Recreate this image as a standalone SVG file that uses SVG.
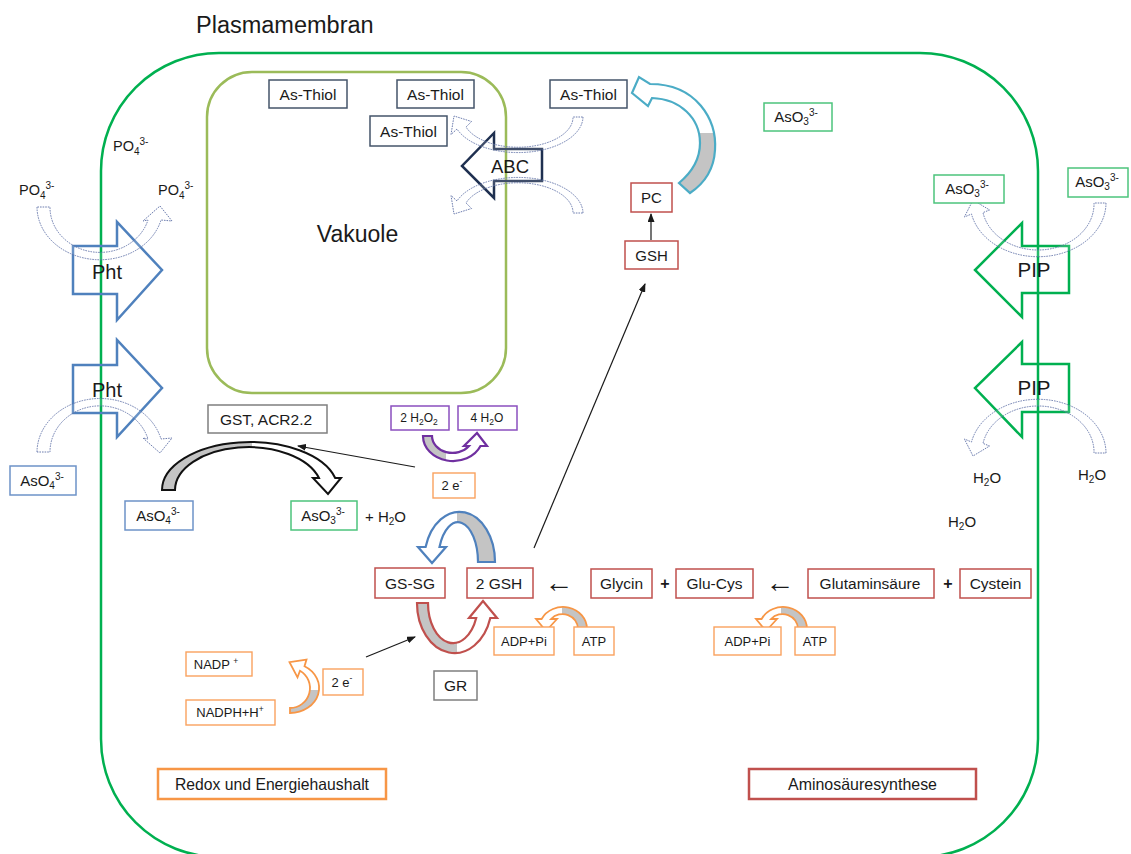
<svg xmlns="http://www.w3.org/2000/svg" width="1131" height="854" viewBox="0 0 1131 854">
  <style>
    .t{font-family:"Liberation Sans",Arial,"DejaVu Sans",sans-serif;fill:#1a1a1a}
    .s{font-size:10px}
    .ss{font-size:8.5px}
    .box{fill:#fff;stroke-width:1.5}
    .slate{stroke:#44546a}
    .red{stroke:#c0504d}
    .org{stroke:#f9a25e;stroke-width:1.4}
    .blu{stroke:#6d93c8}
    .grn{stroke:#4cc47c}
    .gry{stroke:#7f7f7f}
    .pur{stroke:#8b4fbf}
    .dot{fill:#fff;fill-opacity:0.15;stroke:#5d6fa6;stroke-width:0.9;stroke-dasharray:1.6 1}
    .line{stroke:#1a1a1a;stroke-width:1.2;fill:none}
  </style>
  <defs>
    <linearGradient id="gL" x1="0" y1="0" x2="1" y2="0">
      <stop offset="0" stop-color="#c4c4c4"/><stop offset="0.5" stop-color="#c4c4c4"/>
      <stop offset="0.5" stop-color="#fff"/><stop offset="1" stop-color="#fff"/>
    </linearGradient>
    <linearGradient id="gR" x1="0" y1="0" x2="1" y2="0">
      <stop offset="0" stop-color="#fff"/><stop offset="0.5" stop-color="#fff"/>
      <stop offset="0.5" stop-color="#c4c4c4"/><stop offset="1" stop-color="#c4c4c4"/>
    </linearGradient>
    <linearGradient id="gPur" x1="0" y1="0" x2="1" y2="0">
      <stop offset="0" stop-color="#c4c4c4"/><stop offset="0.36" stop-color="#c4c4c4"/>
      <stop offset="0.36" stop-color="#fff"/><stop offset="1" stop-color="#fff"/>
    </linearGradient>
    <linearGradient id="gB" x1="0" y1="0" x2="0" y2="1">
      <stop offset="0" stop-color="#fff"/><stop offset="0.48" stop-color="#fff"/>
      <stop offset="0.48" stop-color="#c4c4c4"/><stop offset="1" stop-color="#c4c4c4"/>
    </linearGradient>
    <linearGradient id="gB2" x1="0" y1="0" x2="0" y2="1">
      <stop offset="0" stop-color="#fff"/><stop offset="0.57" stop-color="#fff"/>
      <stop offset="0.57" stop-color="#c4c4c4"/><stop offset="1" stop-color="#c4c4c4"/>
    </linearGradient>
    <marker id="ah" markerWidth="9" markerHeight="7" refX="8" refY="3.5" orient="auto" markerUnits="userSpaceOnUse">
      <path d="M0,0 L9,3.5 L0,7 z" fill="#1a1a1a"/>
    </marker>
  </defs>

  <rect width="1131" height="854" fill="#fff"/>

  <!-- compartments -->
  <g id="plasmamembran">
    <rect x="101" y="53" width="937" height="804" rx="118" ry="118" fill="none" stroke="#00b050" stroke-width="2.5"/>
    <text class="t" x="196" y="33" font-size="23.5">Plasmamembran</text>
  </g>
  <g id="vakuole">
    <rect x="207" y="72" width="299" height="321" rx="45" ry="45" fill="none" stroke="#9bbb59" stroke-width="2.5"/>
    <text class="t" x="357.5" y="242" font-size="23" text-anchor="middle">Vakuole</text>
  </g>

  <!-- transporters -->
  <g id="pht1">
    <path d="M73,246 L117,246 L117,222 L162,270 L117,320 L117,294 L73,294 Z" fill="none" stroke="#4f81bd" stroke-width="2.5"/>
    <text class="t" x="107" y="279" font-size="20" text-anchor="middle">Pht</text>
  </g>
  <g id="pht2">
    <path d="M73,365 L117,365 L117,340 L162,388 L117,437 L117,413 L73,413 Z" fill="none" stroke="#4f81bd" stroke-width="2.5"/>
    <text class="t" x="107" y="397" font-size="20" text-anchor="middle">Pht</text>
  </g>
  <g id="pip1">
    <path d="M1069,246 L1022,246 L1022,223 L975,270 L1022,317 L1022,293 L1069,293 Z" fill="none" stroke="#00b050" stroke-width="2.5"/>
    <text class="t" x="1034" y="277" font-size="20.5" text-anchor="middle">PIP</text>
  </g>
  <g id="pip2">
    <path d="M1069,364 L1022,364 L1022,342 L975,388 L1022,437 L1022,412 L1069,412 Z" fill="none" stroke="#00b050" stroke-width="2.5"/>
    <text class="t" x="1034" y="395" font-size="20.5" text-anchor="middle">PIP</text>
  </g>
  <g id="abc">
    <path d="M542,149 L494,149 L494,133 L462,166 L494,198 L494,181 L542,181 Z" fill="none" stroke="#1f3050" stroke-width="2.5"/>
    <text class="t" x="510" y="173" font-size="18.5" text-anchor="middle">ABC</text>
  </g>

  <!-- dotted transport flows -->
  <g id="flows">
    <path class="dot" d="M37,207 A63,53 0 0 0 161,220 L172,221 L160,206 L143,221 L148,220 A50,45 0 0 1 50,207 Z"/>
    <path class="dot" d="M37,452 A63,54 0 0 1 161,439 L172,438 L160,453 L143,438 L148,439 A50,46 0 0 0 50,452 Z"/>
    <path class="dot" d="M583,117 A65,36 0 0 1 457,129 L451,134.5 L454,116 L471.6,121.5 L466,127 A55,30 0 0 0 573,117 Z"/>
    <path class="dot" d="M583,213 A65,36 0 0 0 457,201 L451,195.5 L454,214 L471.6,208.5 L466,203 A55,30 0 0 1 573,213 Z"/>
    <path class="dot" d="M1106,203 A68,54 0 0 1 971.5,214 L964.4,217 L973,200 L989.6,210 L983,212.6 A56,46 0 0 0 1094,203 Z"/>
    <path class="dot" d="M1106,453 A68,54 0 0 0 971.5,442 L964.4,439 L973,456 L989.6,446 L983,443.4 A56,46 0 0 1 1094,453 Z"/>
  </g>

  <!-- reaction arrows -->
  <g id="connectors">
    <path d="M162,490 A88,48 0 0 1 335.2,478 L341,478 L328,494 L313,478 L319,478 A73.5,43 0 0 0 175,490 Z" fill="url(#gL)" stroke="#111" stroke-width="2"/>
    <path d="M423,436 A30,25 0 0 0 480.5,446 L487,446 L477,433 L464,446 L469,446 A20.5,17 0 0 1 432,436 Z" fill="url(#gPur)" stroke="#7030a0" stroke-width="2.2"/>
    <path d="M495,562 A35.5,50 0 0 0 425.6,547 L418,547 L432,563 L446,547 L439.5,547 A20,40 0 0 1 478,562 Z" fill="url(#gR)" stroke="#4f81bd" stroke-width="2.2"/>
    <path d="M417,603 A37.5,50 0 0 0 490.3,618 L497,618 L483,601 L469,618 L476.2,618 A25,40 0 0 1 428,603 Z" fill="url(#gL)" stroke="#c0504d" stroke-width="2.2"/>
    <path d="M650,84 C697,84 717,120 715,150 C714,168 705,183 690,193 L679,183 C691,173 700,160 700,143 C700,118 680,99 652,98 L648,106 L632,93 L639,77 Z" fill="url(#gB)" stroke="#4bacc6" stroke-width="2.2"/>
    <path d="M587,629 A24,22 0 0 0 541.6,619 L536,619 L546,631 L557,619 L551,619 A15.5,15 0 0 1 578,629 Z" fill="url(#gR)" stroke="#f79646" stroke-width="1.8"/>
    <path d="M807,629 A24,22 0 0 0 761.6,619 L756,619 L766,631 L777,619 L771,619 A15.5,15 0 0 1 798,629 Z" fill="url(#gR)" stroke="#f79646" stroke-width="1.8"/>
    <path d="M290,713 A29,25 0 0 0 304.5,666.3 L306.5,659.6 L289.5,662.2 L297.5,677.4 L300,670.7 A20,20 0 0 1 290,708 Z" fill="url(#gB2)" stroke="#f79646" stroke-width="1.8"/>
    <line class="line" x1="415" y1="467" x2="298" y2="446" marker-end="url(#ah)"/>
    <line class="line" x1="366" y1="657" x2="415" y2="637" marker-end="url(#ah)"/>
    <line class="line" x1="534" y1="548" x2="645" y2="284" marker-end="url(#ah)"/>
    <line class="line" x1="651" y1="240" x2="651" y2="214" marker-end="url(#ah)"/>
  </g>

  <!-- free labels -->
  <g id="labels">
    <text class="t" x="113" y="151" font-size="14.5">PO<tspan class="s" dy="4">4</tspan><tspan class="s" dy="-10">3-</tspan></text>
    <text class="t" x="19" y="195" font-size="14.5">PO<tspan class="s" dy="4">4</tspan><tspan class="s" dy="-10">3-</tspan></text>
    <text class="t" x="158" y="195" font-size="14.5">PO<tspan class="s" dy="4">4</tspan><tspan class="s" dy="-10">3-</tspan></text>
    <text class="t" x="973" y="483" font-size="15">H<tspan class="s" dy="3">2</tspan><tspan dy="-3">O</tspan></text>
    <text class="t" x="1078" y="480" font-size="15">H<tspan class="s" dy="3">2</tspan><tspan dy="-3">O</tspan></text>
    <text class="t" x="948" y="527" font-size="15">H<tspan class="s" dy="3">2</tspan><tspan dy="-3">O</tspan></text>
    <text class="t" x="365" y="522" font-size="15">+ H<tspan class="s" dy="3">2</tspan><tspan dy="-3">O</tspan></text>
    <text class="t" x="559" y="592" font-size="29" text-anchor="middle">←</text>
    <text class="t" x="780" y="592" font-size="29" text-anchor="middle">←</text>
    <text class="t" x="665" y="589" font-size="16" font-weight="bold" text-anchor="middle">+</text>
    <text class="t" x="948" y="589" font-size="16" font-weight="bold" text-anchor="middle">+</text>
  </g>

  <!-- nodes -->
  <g id="as-thiol-1"><rect class="box slate" x="269" y="80" width="78" height="28"/><text class="t" x="308" y="99.5" font-size="15.5" text-anchor="middle">As-Thiol</text></g>
  <g id="as-thiol-2"><rect class="box slate" x="397" y="80" width="77" height="28"/><text class="t" x="435.5" y="99.5" font-size="15.5" text-anchor="middle">As-Thiol</text></g>
  <g id="as-thiol-3"><rect class="box slate" x="370" y="116" width="77" height="30"/><text class="t" x="408.5" y="136.5" font-size="15.5" text-anchor="middle">As-Thiol</text></g>
  <g id="as-thiol-4"><rect class="box slate" x="550" y="80" width="77" height="28"/><text class="t" x="588.5" y="99.5" font-size="15.5" text-anchor="middle">As-Thiol</text></g>

  <g id="aso3-cyt"><rect class="box grn" x="764" y="103" width="68" height="28"/><text class="t" x="796" y="122" font-size="15" text-anchor="middle">AsO<tspan class="s" dy="3">3</tspan><tspan class="s" dy="-9">3-</tspan></text></g>
  <g id="aso3-in"><rect class="box grn" x="934" y="175" width="70" height="28"/><text class="t" x="967" y="194" font-size="15" text-anchor="middle">AsO<tspan class="s" dy="3">3</tspan><tspan class="s" dy="-9">3-</tspan></text></g>
  <g id="aso3-out"><rect class="box grn" x="1068" y="168" width="60" height="29"/><text class="t" x="1097" y="187" font-size="15" text-anchor="middle">AsO<tspan class="s" dy="3">3</tspan><tspan class="s" dy="-9">3-</tspan></text></g>

  <g id="pc"><rect class="box red" x="631" y="183" width="41" height="29"/><text class="t" x="651.5" y="203" font-size="15" text-anchor="middle">PC</text></g>
  <g id="gsh"><rect class="box red" x="625" y="241" width="53" height="28"/><text class="t" x="651.5" y="260.5" font-size="15" text-anchor="middle">GSH</text></g>

  <g id="aso4-out"><rect class="box blu" x="10" y="466" width="66" height="29"/><text class="t" x="42" y="486" font-size="15" text-anchor="middle">AsO<tspan class="s" dy="3">4</tspan><tspan class="s" dy="-9">3-</tspan></text></g>
  <g id="aso4-cyt"><rect class="box blu" x="125" y="501" width="68" height="29"/><text class="t" x="158" y="521" font-size="15" text-anchor="middle">AsO<tspan class="s" dy="3">4</tspan><tspan class="s" dy="-9">3-</tspan></text></g>
  <g id="aso3-red"><rect class="box grn" x="291" y="501" width="66" height="29"/><text class="t" x="323" y="521" font-size="15" text-anchor="middle">AsO<tspan class="s" dy="3">3</tspan><tspan class="s" dy="-9">3-</tspan></text></g>
  <g id="gst"><rect class="box gry" x="208" y="405" width="119" height="28"/><text class="t" x="266" y="424.5" font-size="15.5" text-anchor="middle">GST, ACR2.2</text></g>

  <g id="h2o2"><rect class="box pur" x="391" y="406" width="58" height="24"/><text class="t" x="419" y="422" font-size="12" text-anchor="middle">2 H<tspan class="ss" dy="3">2</tspan><tspan dy="-3">O</tspan><tspan class="ss" dy="3">2</tspan></text></g>
  <g id="h2o-4"><rect class="box pur" x="458" y="406" width="59" height="24"/><text class="t" x="487" y="422" font-size="12" text-anchor="middle">4 H<tspan class="ss" dy="3">2</tspan><tspan dy="-3">O</tspan></text></g>
  <g id="e-gsh"><rect class="box org" x="433" y="473" width="42" height="25"/><text class="t" x="452" y="490" font-size="13" text-anchor="middle">2 e<tspan class="ss" dy="-6">-</tspan></text></g>

  <g id="gssg"><rect class="box red" x="375" y="568" width="70" height="30"/><text class="t" x="410" y="588.5" font-size="15.5" text-anchor="middle">GS-SG</text></g>
  <g id="gsh2"><rect class="box red" x="467" y="568" width="66" height="30"/><text class="t" x="499" y="588.5" font-size="15.5" text-anchor="middle">2 GSH</text></g>
  <g id="gr"><rect class="box gry" x="434" y="671" width="43" height="29"/><text class="t" x="455.5" y="691" font-size="15.5" text-anchor="middle">GR</text></g>

  <g id="glycin"><rect class="box red" x="591" y="569" width="61" height="29"/><text class="t" x="621.5" y="589" font-size="15.5" text-anchor="middle">Glycin</text></g>
  <g id="glu-cys"><rect class="box red" x="676" y="569" width="77" height="29"/><text class="t" x="714.5" y="589" font-size="15.5" text-anchor="middle">Glu-Cys</text></g>
  <g id="glutaminsaeure"><rect class="box red" x="808" y="569" width="126" height="29"/><text class="t" x="870" y="589" font-size="15.5" text-anchor="middle">Glutaminsäure</text></g>
  <g id="cystein"><rect class="box red" x="960" y="569" width="71" height="29"/><text class="t" x="995.5" y="589" font-size="15.5" text-anchor="middle">Cystein</text></g>

  <g id="adp-1"><rect class="box org" x="494" y="627" width="60" height="28"/><text class="t" x="524" y="645.5" font-size="13" text-anchor="middle">ADP+Pi</text></g>
  <g id="atp-1"><rect class="box org" x="574" y="627" width="40" height="28"/><text class="t" x="594" y="645.5" font-size="13" text-anchor="middle">ATP</text></g>
  <g id="adp-2"><rect class="box org" x="714" y="627" width="67" height="28"/><text class="t" x="747.5" y="645.5" font-size="13" text-anchor="middle">ADP+Pi</text></g>
  <g id="atp-2"><rect class="box org" x="795" y="627" width="40" height="28"/><text class="t" x="815" y="645.5" font-size="13" text-anchor="middle">ATP</text></g>

  <g id="nadp"><rect class="box org" x="186" y="652" width="66" height="24"/><text class="t" x="216" y="668.5" font-size="13" text-anchor="middle">NADP <tspan class="ss" dy="-5">+</tspan></text></g>
  <g id="nadph"><rect class="box org" x="186" y="700" width="89" height="25"/><text class="t" x="230" y="717" font-size="13" text-anchor="middle">NADPH+H<tspan class="ss" dy="-5">+</tspan></text></g>
  <g id="e-nadph"><rect class="box org" x="323" y="669" width="40" height="26"/><text class="t" x="342" y="687" font-size="13" text-anchor="middle">2 e<tspan class="ss" dy="-6">-</tspan></text></g>

  <g id="legend-redox"><rect x="158" y="769" width="228" height="30" fill="#fff" stroke="#f79646" stroke-width="2.5"/><text class="t" x="272" y="790" font-size="16.5" text-anchor="middle" textLength="194" lengthAdjust="spacingAndGlyphs">Redox und Energiehaushalt</text></g>
  <g id="legend-amino"><rect x="749" y="769" width="227" height="30" fill="#fff" stroke="#c0504d" stroke-width="2.5"/><text class="t" x="862.5" y="790" font-size="16.5" text-anchor="middle" textLength="149" lengthAdjust="spacingAndGlyphs">Aminosäuresynthese</text></g>
</svg>
